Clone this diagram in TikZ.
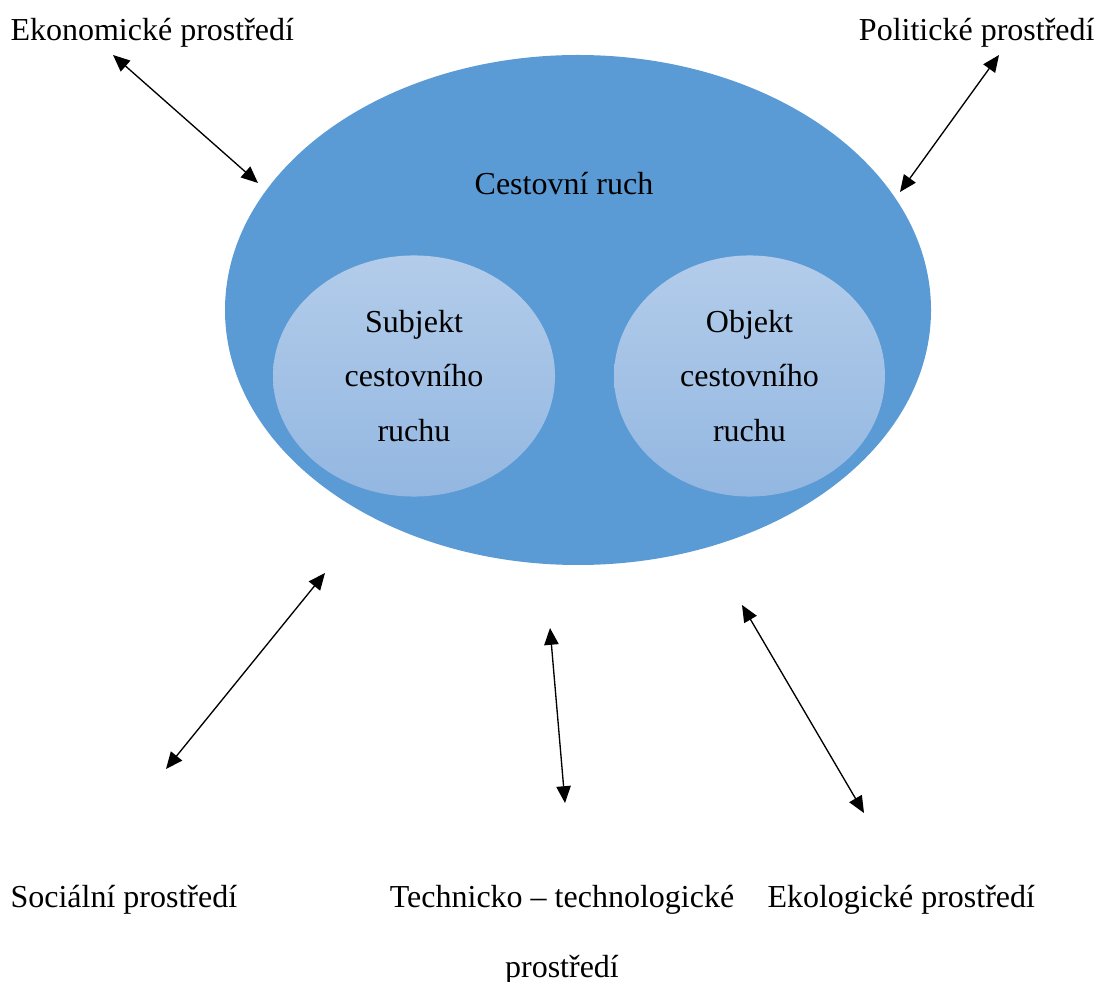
\documentclass[tikz,border=0pt]{standalone}
\usepackage{fontspec}
\setmainfont{Liberation Serif}
\usetikzlibrary{shapes.geometric,arrows.meta}

\definecolor{ruchblue}{HTML}{5B9BD5}
\definecolor{innertop}{HTML}{B3CCEA}
\definecolor{innerbottom}{HTML}{93B7E1}

\begin{document}
\begin{tikzpicture}[
    x=0.375pt,y=-0.375pt,
    font=\fontsize{12}{14}\selectfont,
    Outer/.style={ellipse,fill=ruchblue,minimum width=264.75pt,minimum height=191.25pt,inner sep=0pt},
    Inner/.style={ellipse,top color=innertop,bottom color=innerbottom,minimum height=90.4pt,inner sep=0pt,
                  align=center,font=\fontsize{12}{20.6}\selectfont},
    Label/.style={inner sep=0pt,align=center,font=\fontsize{12}{26.3}\selectfont},
    Link/.style={{Triangle[length=6.3pt,width=5.4pt]}-{Triangle[length=6.3pt,width=5.4pt]},line width=0.5pt},
    ]

    \useasboundingbox (0,0) rectangle (1101,982);

    % tourism and its two parts
    \node[Outer] (CR) at (578,310) {};
    \node (CRtext) at (564,184) {Cestovní ruch};
    \node[Inner,minimum width=105.75pt] (S) at (414,376) {Subjekt\\cestovního\\ruchu};
    \node[Inner,minimum width=101.6pt]  (O) at (749.5,376) {Objekt\\cestovního\\ruchu};

    % surrounding environments
    \node[Label,anchor=west] (EKO) at (10,33)   {Ekonomické prostředí};
    \node[Label,anchor=east] (POL) at (1095,33) {Politické prostředí};
    \node[Label,anchor=west] (SOC) at (10,900)  {Sociální prostředí};
    \node[Label]             (TEC) at (562,935) {Technicko – technologické\\prostředí};
    \node[Label,anchor=west] (EKL) at (767,900) {Ekologické prostředí};

    % arrow end points
    \coordinate (e1) at (113,55);  \coordinate (e2) at (258,183);
    \coordinate (p1) at (999,55);  \coordinate (p2) at (900,192);
    \coordinate (s1) at (325,573); \coordinate (s2) at (166,769);
    \coordinate (t1) at (550,628); \coordinate (t2) at (565,803);
    \coordinate (k1) at (742,605); \coordinate (k2) at (864,813);

    \draw[Link] (e1) -- (e2);
    \draw[Link] (p1) -- (p2);
    \draw[Link] (s1) -- (s2);
    \draw[Link] (t1) -- (t2);
    \draw[Link] (k1) -- (k2);
  \end{tikzpicture}
\end{document}
